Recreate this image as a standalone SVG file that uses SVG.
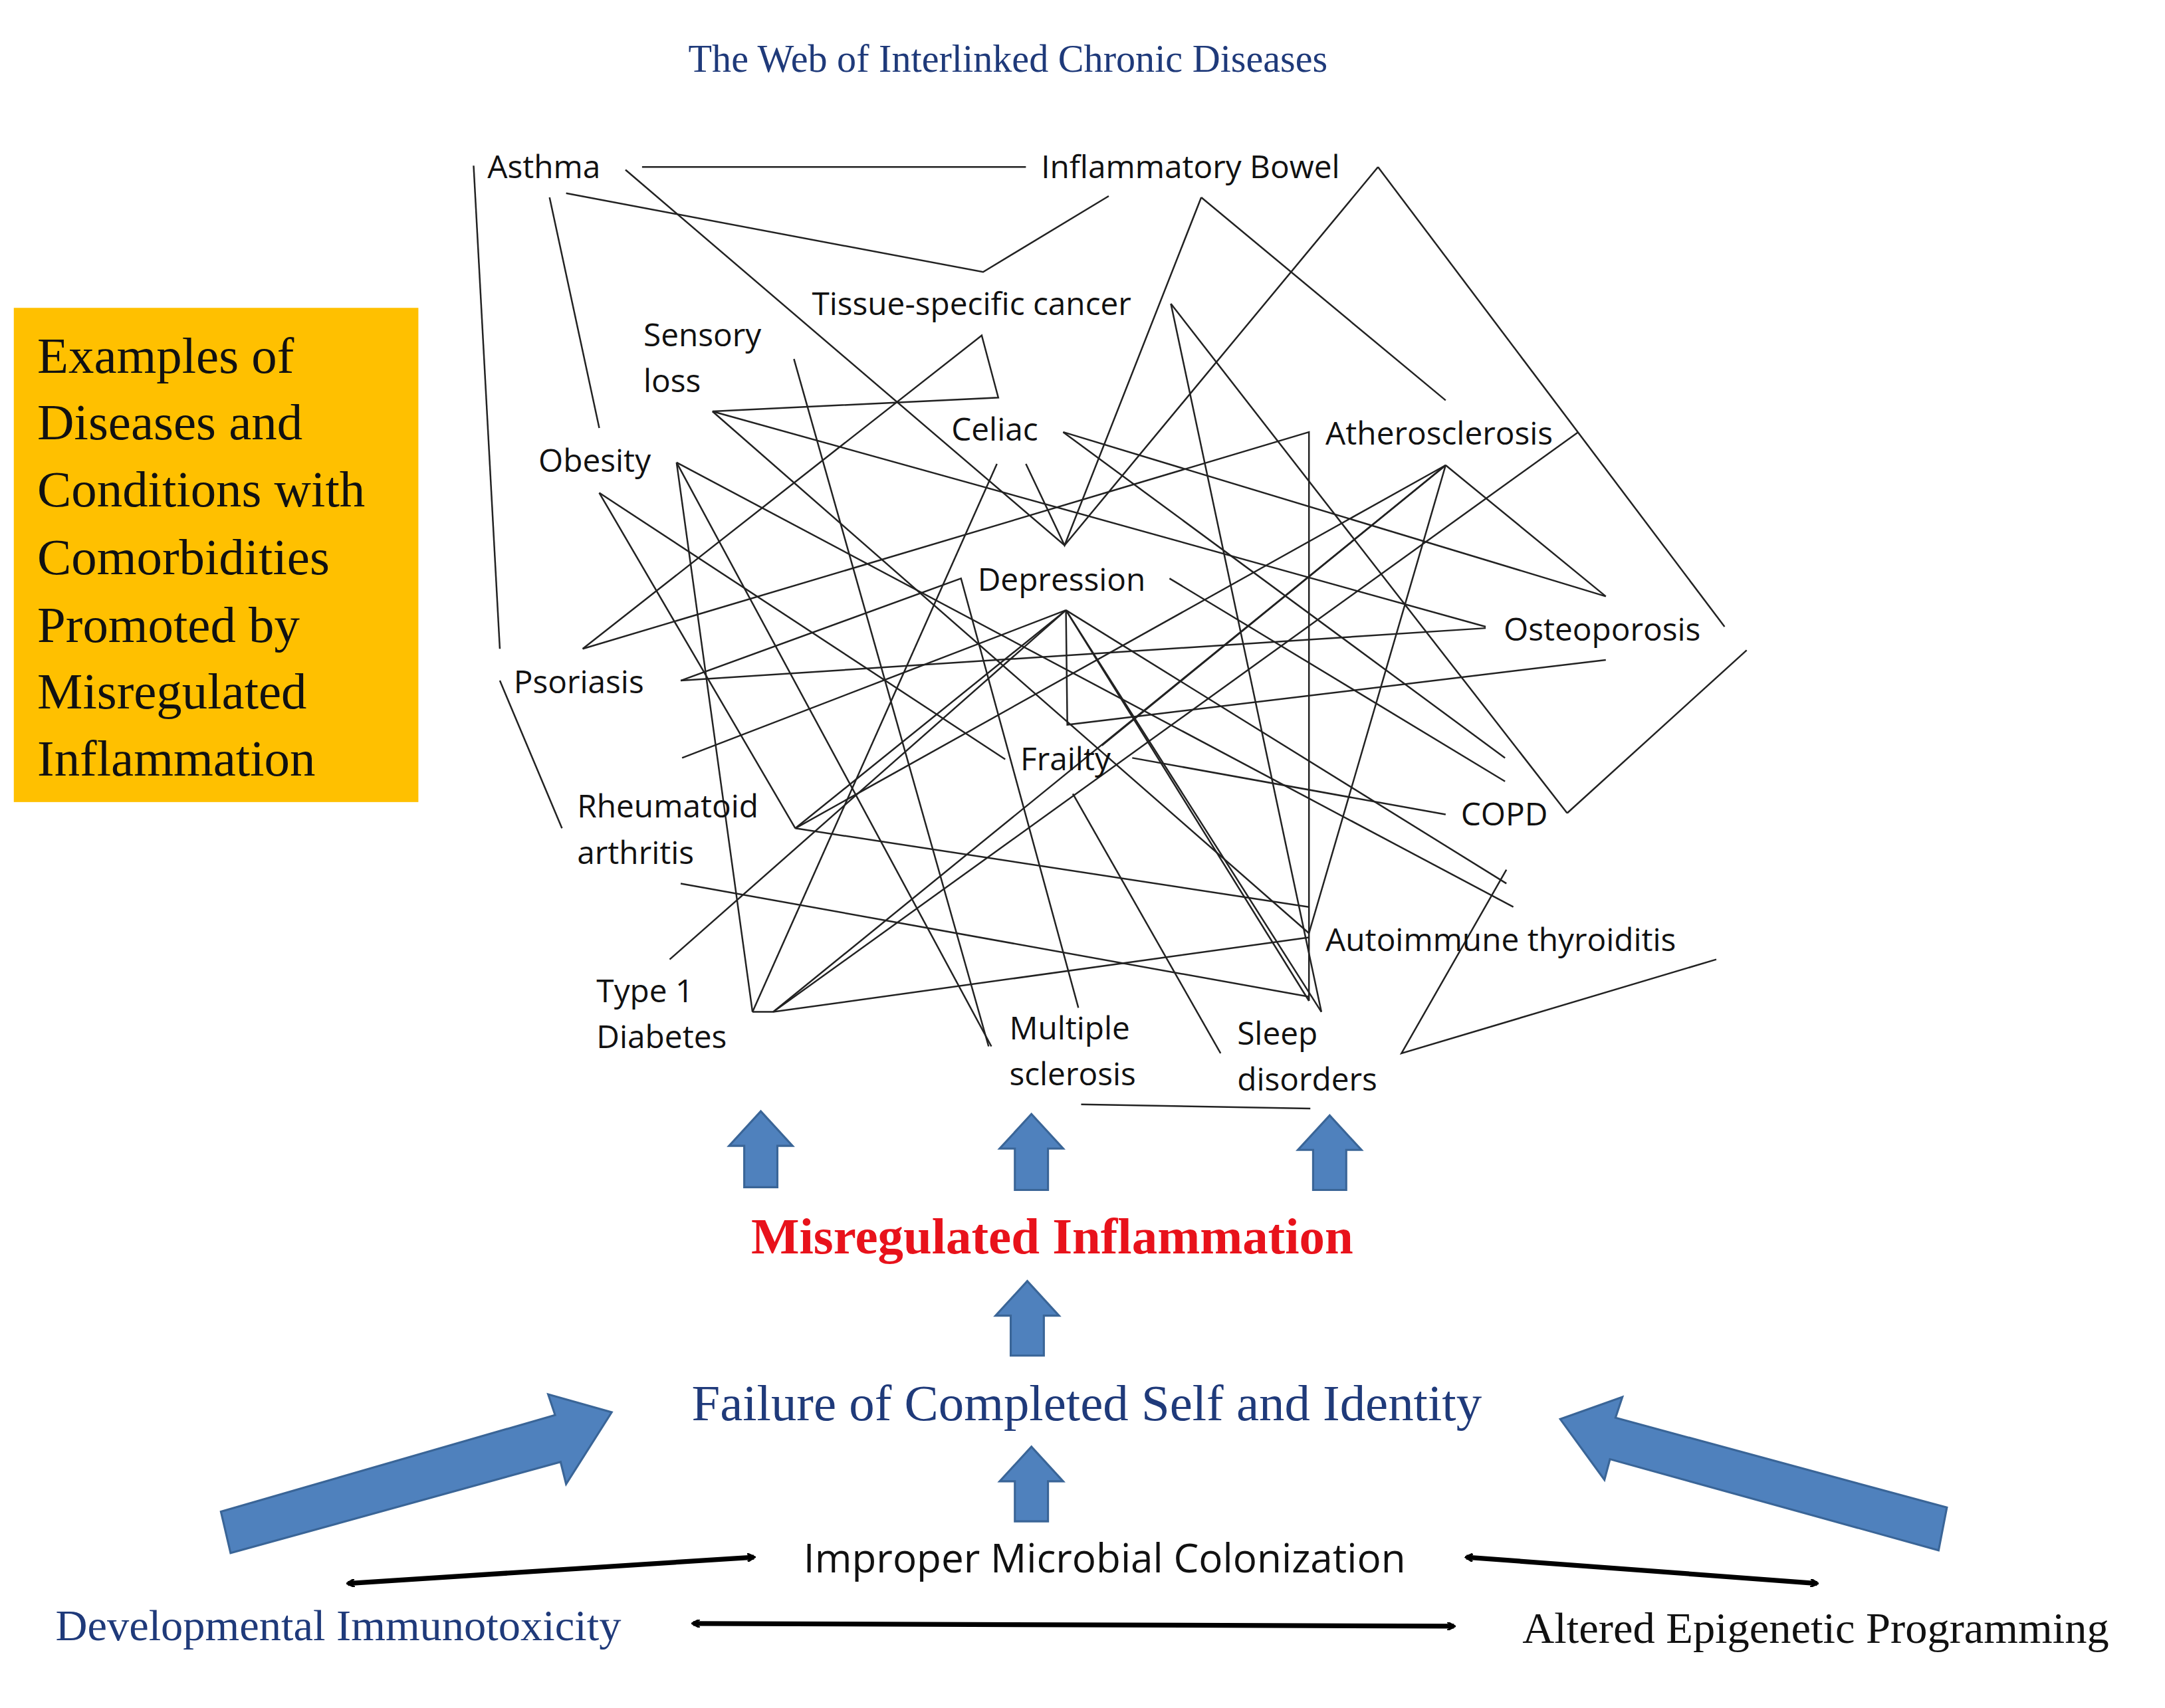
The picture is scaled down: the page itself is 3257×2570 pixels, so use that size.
<svg xmlns="http://www.w3.org/2000/svg" width="3257" height="2570" viewBox="0 0 3257 2570">
<defs>
<style>
.n{font-family:"Open Sans","Liberation Sans",sans-serif;font-size:23px;fill:#111}
.w line,.w polyline{stroke:#222;stroke-width:1.2;fill:none}
.ser{font-family:"Liberation Serif",serif}
.blk{fill:#4F81BD;stroke:#3A6597;stroke-width:1.5}
.dbl{stroke:#000;stroke-width:3.5;fill:none;marker-start:url(#ah);marker-end:url(#ah)}
</style>
<marker id="ah" viewBox="0 0 10 10" refX="8" refY="5" markerWidth="6" markerHeight="6" orient="auto-start-reverse" markerUnits="userSpaceOnUse"><path d="M0,0 L9,5 L0,10" fill="none" stroke="#000" stroke-width="2.5"/></marker>
</defs>
<rect width="3257" height="2570" fill="#fff"/>
<g transform="scale(2.0772)">
<text class="ser" x="730" y="52" font-size="28" fill="#1F3A7A" text-anchor="middle">The Web of Interlinked Chronic Diseases</text>
<g id="box"><rect x="10" y="223" width="293" height="358" fill="#FFC000"/>
<text class="ser" font-size="37" fill="#111"><tspan x="27" y="270">Examples of</tspan><tspan x="27" y="318">Diseases and</tspan><tspan x="27" y="367">Conditions with</tspan><tspan x="27" y="416">Comorbidities</tspan><tspan x="27" y="465">Promoted by</tspan><tspan x="27" y="513">Misregulated</tspan><tspan x="27" y="562">Inflammation</tspan></text></g>
<g id="connectors" class="w">
<line x1="465" y1="121" x2="743" y2="121"/>
<line x1="343" y1="120" x2="362" y2="470"/>
<line x1="362" y1="493" x2="407" y2="600"/>
<polyline points="410,140 712,197 803,142"/>
<line x1="398" y1="143" x2="434" y2="310"/>
<polyline points="453,123 771,395 998,121"/>
<polyline points="743,336 771,395 870,143"/>
<line x1="870" y1="143" x2="1047" y2="290"/>
<line x1="998" y1="121" x2="1249" y2="454"/>
<polyline points="1265,471 1135,589"/>
<polyline points="422,470 711,243 723,288 516,298"/>
<line x1="516" y1="298" x2="1076" y2="454"/>
<line x1="516" y1="298" x2="948" y2="676"/>
<line x1="575" y1="260" x2="716" y2="758"/>
<line x1="490" y1="335" x2="545" y2="733"/>
<line x1="490" y1="335" x2="718" y2="758"/>
<line x1="490" y1="335" x2="1096" y2="657"/>
<line x1="434" y1="357" x2="728" y2="550"/>
<line x1="434" y1="357" x2="576" y2="600"/>
<polyline points="422,470 948,313 948,725"/>
<line x1="493" y1="493" x2="1076" y2="455"/>
<polyline points="493,493 696,419 781,730"/>
<line x1="494" y1="549" x2="772" y2="442"/>
<line x1="493" y1="640" x2="948" y2="722"/>
<line x1="485" y1="695" x2="772" y2="442"/>
<line x1="576" y1="600" x2="948" y2="657"/>
<line x1="576" y1="600" x2="1047" y2="337"/>
<line x1="576" y1="600" x2="772" y2="442"/>
<polyline points="545,733 722,336"/>
<polyline points="545,733 560,733 948,679"/>
<line x1="560" y1="733" x2="1047" y2="337"/>
<line x1="560" y1="733" x2="1143" y2="313"/>
<line x1="1047" y1="337" x2="1163" y2="432"/>
<line x1="1047" y1="337" x2="948" y2="676"/>
<line x1="798" y1="540" x2="1047" y2="337"/>
<polyline points="772,442 773,525 1163,478"/>
<line x1="820" y1="549" x2="1047" y2="590"/>
<line x1="777" y1="575" x2="884" y2="763"/>
<line x1="847" y1="419" x2="1090" y2="566"/>
<line x1="770" y1="313" x2="1090" y2="549"/>
<line x1="770" y1="313" x2="1163" y2="432"/>
<line x1="772" y1="442" x2="1091" y2="640"/>
<line x1="772" y1="442" x2="948" y2="725"/>
<line x1="772" y1="442" x2="957" y2="733"/>
<line x1="848" y1="220" x2="957" y2="733"/>
<line x1="848" y1="220" x2="1135" y2="589"/>
<polyline points="1243,695 1015,763 1091,630"/>
<line x1="783" y1="800" x2="949" y2="803"/>
</g>
<g id="nodes">
<g id="asthma"><text class="n" x="353" y="129">Asthma</text></g>
<g id="ibd"><text class="n" x="754" y="129">Inflammatory Bowel</text></g>
<g id="cancer"><text class="n" x="588" y="228">Tissue-specific cancer</text></g>
<g id="sensory"><text class="n"><tspan x="466" y="251">Sensory</tspan><tspan x="466" y="284">loss</tspan></text></g>
<g id="celiac"><text class="n" x="689" y="319">Celiac</text></g>
<g id="athero"><text class="n" x="960" y="322">Atherosclerosis</text></g>
<g id="obesity"><text class="n" x="390" y="342">Obesity</text></g>
<g id="depression"><text class="n" x="708" y="428">Depression</text></g>
<g id="osteo"><text class="n" x="1089" y="464">Osteoporosis</text></g>
<g id="psoriasis"><text class="n" x="372" y="502">Psoriasis</text></g>
<g id="frailty"><text class="n" x="739" y="558">Frailty</text></g>
<g id="copd"><text class="n" x="1058" y="598">COPD</text></g>
<g id="ra"><text class="n"><tspan x="418" y="592">Rheumatoid</tspan><tspan x="418" y="626">arthritis</tspan></text></g>
<g id="thyroid"><text class="n" x="960" y="689">Autoimmune thyroiditis</text></g>
<g id="t1d"><text class="n"><tspan x="432" y="726">Type 1</tspan><tspan x="432" y="759">Diabetes</tspan></text></g>
<g id="ms"><text class="n"><tspan x="731" y="753">Multiple</tspan><tspan x="731" y="786">sclerosis</tspan></text></g>
<g id="sleep"><text class="n"><tspan x="896" y="757">Sleep</tspan><tspan x="896" y="790">disorders</tspan></text></g>
</g>
<g id="blockarrows">
<path class="blk" d="M539,860 L539,830 L528,830 L551,805 L574,830 L563,830 L563,860 Z"/>
<path class="blk" d="M735,862 L735,832 L724,832 L747,807 L770,832 L759,832 L759,862 Z"/>
<path class="blk" d="M951,862 L951,833 L940,833 L963,808 L986,833 L975,833 L975,862 Z"/>
<path class="blk" d="M732,982 L732,953 L721,953 L744,928 L767,953 L756,953 L756,982 Z"/>
<path class="blk" d="M735,1102 L735,1073 L724,1073 L747,1048 L770,1073 L759,1073 L759,1102 Z"/>
<path class="blk" d="M160,1095 L402,1025 L397,1010 L443,1023 L410,1075 L406,1059 L167,1125 Z"/>
<path class="blk" d="M1410,1092 L1170,1027 L1175,1012 L1130,1028 L1162,1072 L1166,1057 L1404,1123 Z"/>
</g>
<g id="arrows2">
<line class="dbl" x1="252" y1="1147" x2="546" y2="1128"/>
<line class="dbl" x1="502" y1="1176" x2="1053" y2="1178"/>
<line class="dbl" x1="1062" y1="1128" x2="1316" y2="1147"/>
</g>
<text class="ser" x="762" y="908" font-size="37" font-weight="bold" fill="#E8121B" text-anchor="middle">Misregulated Inflammation</text>
<text class="ser" x="787" y="1029" font-size="37" fill="#1F3A7A" text-anchor="middle">Failure of Completed Self and Identity</text>
<text class="n" x="800" y="1139" font-size="30" text-anchor="middle" style="font-size:29px">Improper Microbial Colonization</text>
<text class="ser" x="245" y="1188" font-size="32" fill="#1F3A7A" text-anchor="middle">Developmental Immunotoxicity</text>
<text class="ser" x="1315" y="1190" font-size="32" fill="#111" text-anchor="middle">Altered Epigenetic Programming</text>
</g>
</svg>
